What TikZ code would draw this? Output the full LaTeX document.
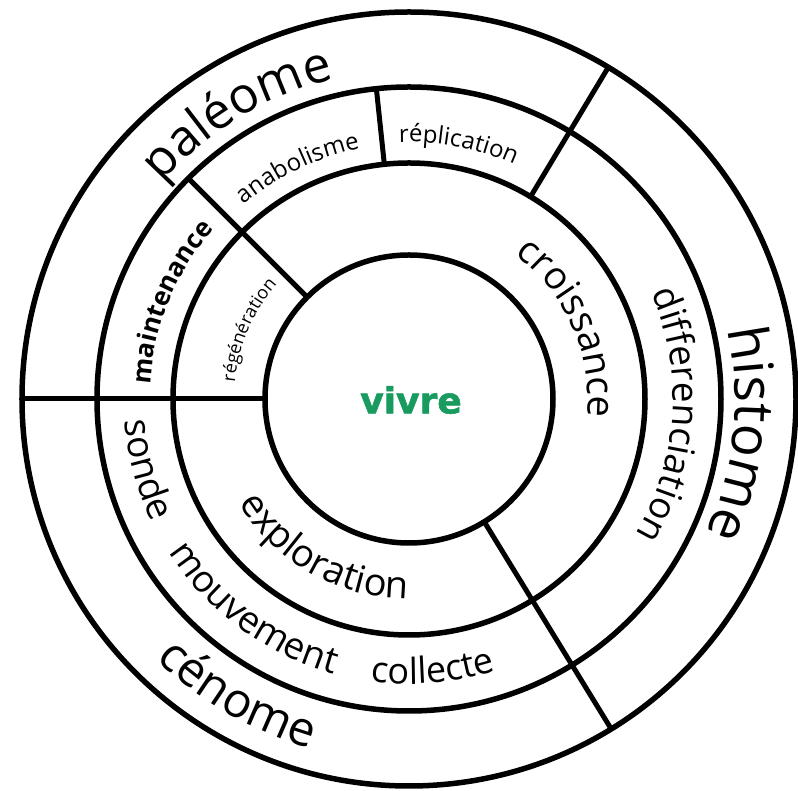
\documentclass[tikz,border=0pt]{standalone}
\usepackage{fontspec}
\setmainfont{Open Sans}
\newfontfamily\vivrefont[BoldFeatures={FakeBold=1.6}]{DejaVu Sans}
\usetikzlibrary{decorations.text}
\definecolor{vivregreen}{RGB}{25,155,95}
\tikzset{
  ring/.style={line width=5.5pt, draw=black},
  divider/.style={line width=5pt, draw=black},
  ringtext/.style={decorate, decoration={text along path, text align=center, text={#1}}}
}
\begin{document}
\begin{tikzpicture}[x=1pt,y=1pt]
\useasboundingbox (-409,-392) rectangle (389,399);
% circles
\draw[ring] (0,0) circle[radius=387pt];
\draw[ring] (0,0) circle[radius=312pt];
\draw[ring] (0,0) circle[radius=236pt];
\draw[ring] (0,0) circle[radius=144pt];
% dividers
\draw[divider] (180:144pt) -- (180:387pt);
\draw[divider] (135:144pt) -- (135:312pt);
\draw[divider] (96:236pt) -- (96:312pt);
\draw[divider] (59:236pt) -- (59:387pt);
\draw[divider] (-58.5:144pt) -- (-58.5:387pt);
% outer ring
\path[ringtext={|\fontsize{50}{50}\selectfont|paléome}] (161:328pt) arc[start angle=161, end angle=81, radius=328pt];
\path[ringtext={|\fontsize{55}{55}\selectfont|histome}] (36:326pt) arc[start angle=36, end angle=-48, radius=326pt];
\path[ringtext={|\fontsize{48}{48}\selectfont|cénome}] (200:363pt) arc[start angle=200, end angle=280, radius=363pt];
% middle ring
\path[ringtext={|\fontsize{24}{24}\selectfont|réplication}] (104:257pt) arc[start angle=104, end angle=54, radius=257pt];
\path[ringtext={|\fontsize{24}{24}\selectfont|anabolisme}] (140.7:255pt) arc[start angle=140.7, end angle=90.7, radius=255pt];
\path[ringtext={|\bfseries\fontsize{26}{26}\selectfont|maintenance}] (187.8:259pt) arc[start angle=187.8, end angle=127.8, radius=259pt];
\path[ringtext={|\fontsize{37}{37}\selectfont|differenciation}] (36.4:264pt) arc[start angle=36.4, end angle=-43.6, radius=264pt];
\path[ringtext={|\fontsize{37}{37}\selectfont|sonde}] (180:285pt) arc[start angle=180, end angle=210, radius=285pt];
\path[ringtext={|\fontsize{37}{37}\selectfont|mouvement}] (203.6:285pt) arc[start angle=203.6, end angle=263.6, radius=285pt];
\path[ringtext={|\fontsize{36}{36}\selectfont|collecte}] (255:285pt) arc[start angle=255, end angle=295, radius=285pt];
% inner ring
\path[ringtext={|\fontsize{38}{38}\selectfont|croissance}] (64:179pt) arc[start angle=64, end angle=-16, radius=179pt];
\path[ringtext={|\fontsize{38}{38}\selectfont|exploration}] (200.6:200pt) arc[start angle=200.6, end angle=280.6, radius=200pt];
\path[ringtext={|\fontsize{18}{18}\selectfont|régénération}] (186.7:175pt) arc[start angle=186.7, end angle=126.7, radius=175pt];
% centre
\node[text=vivregreen, font=\vivrefont\bfseries\fontsize{36}{36}\selectfont] (vivre) at (2,-1) {vivre};
\end{tikzpicture}
\end{document}
